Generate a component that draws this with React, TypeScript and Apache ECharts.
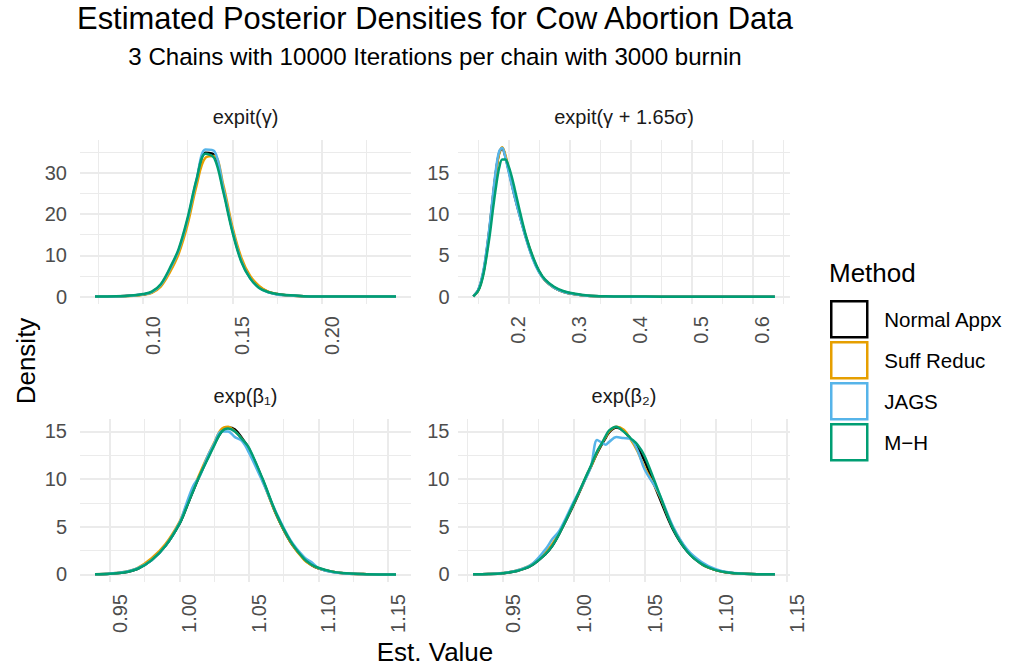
import React, { useEffect, useRef } from "react";
import * as echarts from "echarts";

const FONT = "'Liberation Sans', Arial, Helvetica, sans-serif";

const METHODS = ["Normal Appx", "Suff Reduc", "JAGS", "M−H"];
const COLORS = ["#000000", "#E69F00", "#56B4E9", "#009E73"];

const TITLE = "Estimated Posterior Densities for Cow Abortion Data";
const SUBTITLE = "3 Chains with 10000 Iterations per chain with 3000 burnin";
const PANEL_TITLES = ["expit(γ)", "expit(γ + 1.65σ)", "exp(β₁)", "exp(β₂)"];
const X_TITLE = "Est. Value";
const Y_TITLE = "Density";
const LEGEND_TITLE = "Method";

// Panel 1: expit(gamma)
const p1X = [0.0733, 0.085, 0.095, 0.1, 0.105, 0.11, 0.115, 0.12, 0.125, 0.13, 0.135, 0.14, 0.145, 0.15, 0.155, 0.16, 0.165, 0.17, 0.175, 0.18, 0.19, 0.2, 0.215, 0.23, 0.2415];
const p1Normal = [0, 0.04, 0.25, 0.5, 1.0, 2.7, 6.3, 11.0, 18.3, 27.8, 34.8, 34.2, 26.0, 16.3, 8.9, 4.6, 2.3, 1.15, 0.6, 0.3, 0.08, 0.02, 0.005, 0, 0];
const p1Suff = [0, 0.03, 0.2, 0.45, 0.9, 2.4, 5.8, 10.3, 17.4, 26.8, 33.6, 34.0, 27.0, 17.0, 9.5, 5.0, 2.6, 1.2, 0.6, 0.3, 0.08, 0.02, 0.005, 0, 0];
const p1Jags = [0, 0.04, 0.28, 0.55, 1.1, 2.8, 6.5, 11.2, 18.6, 28.2, 35.6, 35.2, 26.2, 16.2, 8.7, 4.4, 2.1, 1.0, 0.5, 0.3, 0.08, 0.02, 0.005, 0, 0];
const p1MH = [0, 0.05, 0.3, 0.6, 1.2, 3.0, 6.8, 11.5, 19.0, 28.3, 34.6, 33.5, 25.3, 15.8, 8.5, 4.4, 2.1, 1.1, 0.6, 0.35, 0.1, 0.03, 0.01, 0, 0];

// Panel 2: expit(gamma + 1.65 sigma)
const p2X = [0.1426, 0.15, 0.155, 0.16, 0.165, 0.17, 0.175, 0.18, 0.185, 0.19, 0.195, 0.2, 0.205, 0.21, 0.22, 0.23, 0.24, 0.25, 0.26, 0.275, 0.29, 0.31, 0.33, 0.36, 0.4, 0.45, 0.5, 0.56, 0.637];
const p2Normal = [0.05, 0.7, 1.7, 3.3, 5.8, 8.8, 12.2, 15.3, 17.4, 18.0, 17.0, 15.5, 13.9, 12.3, 9.5, 6.9, 4.7, 3.1, 2.0, 1.1, 0.6, 0.3, 0.12, 0.04, 0.01, 0, 0, 0, 0];
const p2Suff = [0.05, 0.65, 1.6, 3.2, 5.6, 8.6, 12.0, 15.1, 17.3, 18.1, 17.2, 15.6, 14.0, 12.4, 9.6, 7.0, 4.8, 3.1, 2.0, 1.1, 0.6, 0.3, 0.12, 0.04, 0.01, 0, 0, 0, 0];
const p2Jags = [0.05, 0.75, 1.8, 3.5, 6.0, 9.0, 12.5, 15.6, 17.6, 18.0, 16.9, 15.3, 13.7, 12.2, 9.4, 6.8, 4.6, 3.0, 2.0, 1.1, 0.6, 0.3, 0.12, 0.04, 0.01, 0, 0, 0, 0];
const p2MH = [0.05, 0.65, 1.5, 3.0, 5.2, 7.7, 10.7, 13.4, 15.6, 16.6, 16.6, 15.9, 14.7, 13.2, 10.0, 7.1, 4.9, 3.2, 2.1, 1.2, 0.7, 0.35, 0.15, 0.05, 0.02, 0.01, 0, 0, 0];

// Panel 3: exp(beta1)
const p3X = [0.9392, 0.95, 0.96, 0.97, 0.98, 0.99, 1.0, 1.005, 1.01, 1.015, 1.02, 1.025, 1.03, 1.035, 1.04, 1.045, 1.05, 1.06, 1.07, 1.08, 1.09, 1.095, 1.1, 1.11, 1.12, 1.135, 1.156];
const p3Normal = [0.02, 0.08, 0.2, 0.6, 1.5, 3.0, 5.3, 7.0, 8.8, 10.5, 12.1, 13.6, 14.9, 15.4, 15.2, 14.3, 13.2, 9.9, 6.2, 3.4, 1.6, 1.0, 0.65, 0.28, 0.1, 0.03, 0];
const p3Suff = [0.02, 0.1, 0.25, 0.7, 1.7, 3.2, 5.5, 7.2, 9.0, 10.7, 12.3, 13.8, 15.2, 15.5, 15.0, 14.2, 13.0, 9.8, 6.2, 3.4, 1.5, 1.0, 0.65, 0.28, 0.1, 0.03, 0];
const p3Jags = [0.02, 0.1, 0.25, 0.65, 1.5, 3.0, 5.4, 7.4, 9.3, 10.4, 12.3, 13.7, 15.0, 15.0, 14.4, 14.0, 12.8, 9.7, 6.4, 3.6, 1.8, 1.3, 0.7, 0.25, 0.1, 0.03, 0];
const p3MH = [0.02, 0.08, 0.2, 0.6, 1.5, 3.0, 5.3, 7.0, 8.8, 10.5, 12.0, 13.5, 14.9, 15.3, 15.0, 14.2, 13.3, 10.0, 6.3, 3.5, 1.6, 1.05, 0.7, 0.3, 0.12, 0.03, 0];

// Panel 4: exp(beta2)
const p4X = [0.9292, 0.94, 0.95, 0.96, 0.97, 0.98, 0.985, 0.99, 1.0, 1.01, 1.0125, 1.0165, 1.02, 1.0225, 1.025, 1.03, 1.035, 1.04, 1.045, 1.05, 1.06, 1.07, 1.08, 1.09, 1.1, 1.11, 1.125, 1.1417];
const p4Normal = [0.01, 0.04, 0.12, 0.35, 0.9, 2.1, 3.0, 4.3, 7.3, 10.6, 11.4, 12.7, 13.7, 14.3, 14.9, 15.4, 15.1, 14.2, 13.3, 11.9, 8.2, 4.7, 2.4, 1.1, 0.45, 0.17, 0.03, 0];
const p4Suff = [0.01, 0.05, 0.14, 0.4, 1.0, 2.3, 3.2, 4.4, 7.4, 10.6, 11.4, 12.8, 13.8, 14.4, 15.0, 15.5, 15.2, 14.2, 12.9, 11.2, 8.4, 4.9, 2.5, 1.1, 0.45, 0.17, 0.03, 0];
const p4Jags = [0.01, 0.05, 0.14, 0.4, 1.0, 2.6, 3.7, 4.6, 7.6, 10.5, 11.5, 14.1, 13.8, 13.6, 13.9, 14.4, 14.3, 14.2, 13.0, 11.0, 8.5, 5.0, 2.6, 1.3, 0.55, 0.2, 0.04, 0];
const p4MH = [0.01, 0.04, 0.12, 0.35, 0.9, 2.1, 3.0, 4.3, 7.4, 10.7, 11.5, 12.9, 13.8, 14.5, 15.1, 15.5, 15.0, 14.3, 13.6, 12.4, 8.6, 4.8, 2.4, 1.1, 0.45, 0.17, 0.03, 0];

const PANEL_X = [p1X, p2X, p3X, p4X];
const PANEL_Y = [
  [p1Normal, p1Suff, p1Jags, p1MH],
  [p2Normal, p2Suff, p2Jags, p2MH],
  [p3Normal, p3Suff, p3Jags, p3MH],
  [p4Normal, p4Suff, p4Jags, p4MH],
];

// axis ranges (ggplot's 5% expansion) and break steps
const X_MIN = [0.0649, 0.1175, 0.9284, 0.9186];
const X_MAX = [0.2499, 0.6618, 1.1668, 1.1523];
const X_STEP = [0.05, 0.1, 0.05, 0.05];
const X_DEC = [2, 1, 2, 2];
const Y_MIN = [-1.8, -0.88, -0.79, -0.8];
const Y_MAX = [37.9, 18.97, 16.3, 16.3];
const Y_STEP = [10, 5, 5, 5];

const GRIDS = [
  { left: 80, top: 140, width: 331, height: 164 },
  { left: 458, top: 140, width: 332, height: 164 },
  { left: 80, top: 419, width: 331, height: 163 },
  { left: 458, top: 419, width: 332, height: 163 },
];

const GRID_COLOR = "#ebebeb";
const AXIS_TEXT = "#4d4d4d";

export default function App() {
  const ref = useRef<HTMLDivElement>(null);

  useEffect(() => {
    if (!ref.current) return;
    const chart = echarts.init(ref.current, undefined, { renderer: "svg" });

    const xAxis = GRIDS.map((_, p) => ({
      type: "value",
      gridIndex: p,
      min: X_MIN[p],
      max: X_MAX[p],
      minInterval: X_STEP[p],
      maxInterval: X_STEP[p],
      axisLine: { show: false },
      axisTick: { show: false },
      minorTick: { show: false, splitNumber: 2 },
      axisLabel: {
        rotate: 90,
        verticalAlign: "top",
        margin: 12,
        fontSize: 20,
        color: AXIS_TEXT,
        fontFamily: FONT,
        showMinLabel: false,
        showMaxLabel: false,
        formatter: (v: number) => v.toFixed(X_DEC[p]),
      },
      splitLine: {
        show: true,
        showMinLine: false,
        showMaxLine: false,
        lineStyle: { color: GRID_COLOR, width: 2 },
      },
      minorSplitLine: { show: true, lineStyle: { color: GRID_COLOR, width: 1 } },
    }));

    const yAxis = GRIDS.map((_, p) => ({
      type: "value",
      gridIndex: p,
      min: Y_MIN[p],
      max: Y_MAX[p],
      minInterval: Y_STEP[p],
      maxInterval: Y_STEP[p],
      axisLine: { show: false },
      axisTick: { show: false },
      minorTick: { show: false, splitNumber: 2 },
      axisLabel: {
        margin: p % 2 === 0 ? 13 : 8.5,
        fontSize: 20,
        color: AXIS_TEXT,
        fontFamily: FONT,
        showMinLabel: false,
        showMaxLabel: false,
        formatter: (v: number) => String(Math.round(v)),
      },
      splitLine: {
        show: true,
        showMinLine: false,
        showMaxLine: false,
        lineStyle: { color: GRID_COLOR, width: 2 },
      },
      minorSplitLine: { show: true, lineStyle: { color: GRID_COLOR, width: 1 } },
    }));

    const series: any[] = [];
    PANEL_X.forEach((xs, p) => {
      METHODS.forEach((name, m) => {
        const ys = PANEL_Y[p][m];
        series.push({
          type: "line",
          name,
          xAxisIndex: p,
          yAxisIndex: p,
          data: xs.map((x, i) => [x, ys[i]]),
          showSymbol: false,
          symbol: "none",
          smooth: 0.35,
          clip: true,
          z: 2 + m,
          lineStyle: { color: COLORS[m], width: 2.5 },
          itemStyle: { color: COLORS[m] },
          emphasis: { disabled: true },
        });
      });
    });

    const graphicText = (
      text: string,
      x: number,
      y: number,
      fontSize: number,
      align: string,
      fill: string,
      rotation = 0
    ) => ({
      type: "text",
      x,
      y,
      rotation,
      silent: true,
      style: {
        text,
        fontSize,
        fontFamily: FONT,
        fill,
        align,
        verticalAlign: "middle",
      },
    });

    chart.setOption({
      animation: false,
      backgroundColor: "#ffffff",
      grid: GRIDS,
      xAxis,
      yAxis,
      series,
      legend: {
        orient: "vertical",
        left: 830,
        top: 300,
        padding: 0,
        itemWidth: 36,
        itemHeight: 36,
        itemGap: 2.5,
        selectedMode: false,
        textStyle: { fontSize: 20.5, color: "#000", fontFamily: FONT, padding: [0, 0, 0, 12] },
        data: METHODS.map((name, i) => ({
          name,
          icon: "rect",
          itemStyle: { color: "#ffffff", borderColor: COLORS[i], borderWidth: 2.5 },
        })),
      },
      graphic: [
        graphicText(TITLE, 435, 18, 30.9, "center", "#000"),
        graphicText(SUBTITLE, 435, 56.5, 24.1, "center", "#000"),
        graphicText(PANEL_TITLES[0], 245.5, 117, 20, "center", "#1a1a1a"),
        graphicText(PANEL_TITLES[1], 624, 117, 20, "center", "#1a1a1a"),
        graphicText(PANEL_TITLES[2], 245.5, 395.5, 20, "center", "#1a1a1a"),
        graphicText(PANEL_TITLES[3], 624, 395.5, 20, "center", "#1a1a1a"),
        graphicText(X_TITLE, 435, 652, 26, "center", "#000"),
        graphicText(Y_TITLE, 26, 361, 26, "center", "#000", Math.PI / 2),
        graphicText(LEGEND_TITLE, 829, 273, 26, "left", "#000"),
      ],
    });

    return () => chart.dispose();
  }, []);

  return (
    <div
      ref={ref}
      style={{ position: "fixed", left: 0, top: 0, width: 1011, height: 666, background: "#fff" }}
    />
  );
}
